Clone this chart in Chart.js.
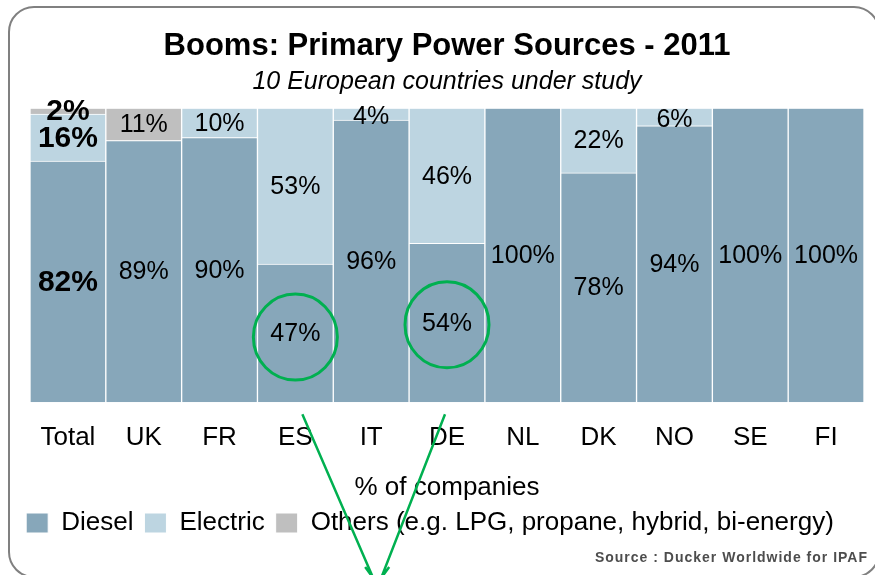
<!DOCTYPE html>
<html>
<head>
<meta charset="utf-8">
<script src="https://cdn.jsdelivr.net/npm/chart.js@4"></script>
<style>
  html, body { margin: 0; padding: 0; background: #fff; }
  #wrap { position: relative; width: 875px; height: 575px; overflow: hidden; }
  #frame { position: absolute; left: 8px; top: 6px; width: 868px; height: 568px;
           border: 2px solid #808080; border-radius: 26px; }
  canvas { position: absolute; left: 0; top: 0; }
</style>
</head>
<body>
<div id="wrap">
  <div id="frame"></div>
  <canvas id="chart" width="875" height="575"></canvas>
</div>
<script>
const categories = ['Total', 'UK', 'FR', 'ES', 'IT', 'DE', 'NL', 'DK', 'NO', 'SE', 'FI'];
const diesel   = [82, 89, 90, 47, 96, 54, 100, 78, 94, 100, 100];
const electric = [16, 0, 10, 53, 4, 46, 0, 22, 6, 0, 0];
const others   = [2, 11, 0, 0, 0, 0, 0, 0, 0, 0, 0];
const circled  = ['ES', 'DE'];

const FONT = '"Liberation Sans", Arial, sans-serif';
const GREEN = '#00B050';

// value labels centred in each segment, Total column bigger and bold
const valueLabels = {
  id: 'valueLabels',
  afterDatasetsDraw(chart) {
    const ctx = chart.ctx;
    ctx.save();
    ctx.textAlign = 'center';
    ctx.textBaseline = 'middle';
    ctx.fillStyle = '#000';
    chart.data.datasets.forEach((ds, di) => {
      const meta = chart.getDatasetMeta(di);
      meta.data.forEach((bar, i) => {
        const v = ds.data[i];
        if (!v) return;
        let y = (bar.y + bar.base) / 2 + 1;
        if (i === 0) {
          ctx.font = 'bold 30px ' + FONT;
        } else {
          ctx.font = '25px ' + FONT;
          if (v < 8) y += 2;
        }
        ctx.fillText(v + '%', bar.x, y);
      });
    });
    ctx.restore();
  }
};

// legend sits a bit left of centre in the original
const legendShift = {
  id: 'legendShift',
  afterLayout(chart) {
    chart.legend.left -= 17;
    chart.legend.right -= 17;
  }
};

// green circles on ES / DE plus the two lines running off the bottom
const highlights = {
  id: 'highlights',
  afterDraw(chart) {
    const ctx = chart.ctx;
    const meta = chart.getDatasetMeta(0);
    ctx.save();
    ctx.strokeStyle = GREEN;
    ctx.lineWidth = 3;
    circled.forEach((c, k) => {
      const i = categories.indexOf(c);
      const bar = meta.data[i];
      const cy = (bar.y + bar.base) / 2 + (k === 0 ? 4 : 2);
      ctx.beginPath();
      ctx.ellipse(bar.x, cy, 42, 43, 0, 0, Math.PI * 2);
      ctx.stroke();
    });
    const xs = chart.scales.x;
    const esX = xs.getPixelForValue(categories.indexOf('ES'));
    const deX = xs.getPixelForValue(categories.indexOf('DE'));
    const y0 = chart.chartArea.bottom + 12;
    const tipX = (esX + deX) / 2 + 6;
    ctx.lineWidth = 2.5;
    ctx.beginPath();
    ctx.moveTo(esX + 7, y0);
    ctx.lineTo(tipX - 4, 578);
    ctx.moveTo(deX - 2, y0);
    ctx.lineTo(tipX + 4, 578);
    ctx.moveTo(tipX - 12, 567); ctx.lineTo(tipX - 4, 578);
    ctx.moveTo(tipX + 12, 567); ctx.lineTo(tipX + 4, 578);
    ctx.stroke();

    ctx.font = 'bold 14px ' + FONT;
    ctx.letterSpacing = '1px';
    ctx.fillStyle = '#4d4d4d';
    ctx.textAlign = 'right';
    ctx.textBaseline = 'middle';
    ctx.fillText('Source : Ducker Worldwide for IPAF', 868, 558);
    ctx.restore();
  }
};

new Chart(document.getElementById('chart'), {
  type: 'bar',
  data: {
    labels: categories,
    datasets: [
      { label: 'Diesel', data: diesel, backgroundColor: '#87A7BA', borderColor: '#fff', borderWidth: 1 },
      { label: 'Electric', data: electric, backgroundColor: '#BDD5E1', borderColor: '#fff', borderWidth: 1 },
      { label: 'Others (e.g. LPG, propane, hybrid, bi-energy)', data: others, backgroundColor: '#BFBFBF', borderColor: '#fff', borderWidth: 1 }
    ]
  },
  options: {
    responsive: false,
    animation: false,
    layout: { padding: { left: 30, right: 11, top: 0, bottom: 29 } },
    datasets: { bar: { barPercentage: 1, categoryPercentage: 1 } },
    plugins: {
      title: {
        display: true,
        text: 'Booms: Primary Power Sources - 2011',
        color: '#000',
        font: { family: FONT, size: 31, weight: 'bold' },
        padding: { top: 28, bottom: 2 }
      },
      subtitle: {
        display: true,
        text: '10 European countries under study',
        color: '#000',
        font: { family: FONT, size: 25, style: 'italic' },
        padding: { top: 0, bottom: 11 }
      },
      legend: {
        position: 'bottom',
        align: 'center',
        labels: {
          color: '#000',
          boxWidth: 22,
          boxHeight: 20,
          padding: 11,
          font: { family: FONT, size: 26 }
        }
      },
      tooltip: { enabled: false }
    },
    scales: {
      x: {
        stacked: true,
        grid: { display: false, drawTicks: false },
        border: { display: false },
        ticks: { color: '#000', padding: 20, font: { family: FONT, size: 26 } },
        title: {
          display: true,
          text: '% of companies',
          color: '#000',
          font: { family: FONT, size: 26, lineHeight: 0.6 },
          padding: { top: 7, bottom: 3 }
        }
      },
      y: {
        stacked: true,
        display: false,
        min: 0,
        max: 100
      }
    }
  },
  plugins: [valueLabels, legendShift, highlights]
});
</script>
</body>
</html>
